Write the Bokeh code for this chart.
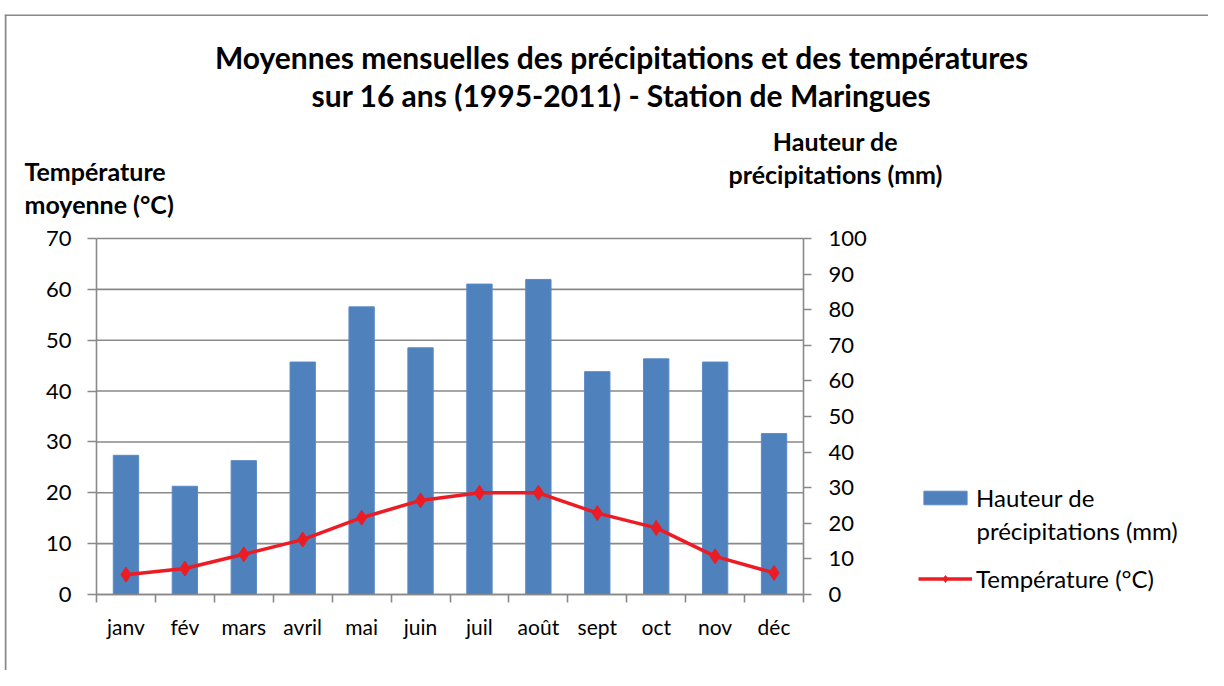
from bokeh.plotting import figure
from bokeh.models import Range1d, LinearAxis, FixedTicker, Legend, LegendItem, Label, Span
from bokeh.embed import file_html
from bokeh.resources import INLINE

# ---- data ----
months = ["janv", "fév", "mars", "avril", "mai", "juin", "juil", "août", "sept", "oct", "nov", "déc"]
precip_mm = [39.1, 30.4, 37.6, 65.3, 80.8, 69.3, 87.2, 88.5, 62.6, 66.2, 65.3, 45.2]
temp_c = [3.9, 5.1, 7.9, 10.8, 15.1, 18.5, 20.0, 20.0, 16.0, 13.1, 7.5, 4.25]
temp_ticks = [0, 10, 20, 30, 40, 50, 60, 70]
precip_ticks = [0, 10, 20, 30, 40, 50, 60, 70, 80, 90, 100]

title_lines = ["Moyennes mensuelles des précipitations et des températures",
               "sur 16 ans (1995-2011) - Station de Maringues"]
left_title = "Température\nmoyenne (°C)"
right_title = "Hauteur de\nprécipitations (mm)"
precip_label = ["Hauteur de", "précipitations (mm)"]
temp_label = "Température (°C)"

FONT = "Lato"
GRAY = "#898989"
BLUE = "#4F81BD"
RED = "#EC1C24"

xs = list(range(1, len(months) + 1))
X_LO, X_HI = xs[0] - 0.5, xs[-1] + 0.5
T_LO, T_HI = temp_ticks[0], temp_ticks[-1]
P_LO, P_HI = precip_ticks[0], precip_ticks[-1]

# ---- layout geometry (page pixels) ----
W, H = 1208, 670
FR_L, FR_T = 4, 14            # outer border origin
AX_L, AX_R, AX_T, AX_B = 96, 803, 238, 594   # chart area

sx = (AX_R - AX_L) / (X_HI - X_LO)
sy = (AX_B - AX_T) / (T_HI - T_LO)
sp = (AX_B - AX_T) / (P_HI - P_LO)

def px(page_x):
    return X_LO + (page_x - AX_L) / sx
def py(page_y):
    return T_LO + (AX_B - page_y) / sy
def pp(page_y):
    return P_LO + (AX_B - page_y) / sp

p = figure(width=W, height=H,
           x_range=Range1d(px(FR_L), px(W)), y_range=Range1d(py(H), py(FR_T)),
           output_backend="svg", toolbar_location=None,
           min_border_left=FR_L, min_border_top=FR_T, min_border_right=0, min_border_bottom=0)
p.extra_y_ranges = {"precip": Range1d(pp(H), pp(FR_T))}
p.outline_line_color = None
p.background_fill_color = "white"
p.border_fill_color = "white"
p.xgrid.visible = False
p.ygrid.visible = False

# outer border (top and left)
p.add_layout(Span(location=py(FR_T + 0.5), dimension="width", line_color=GRAY, line_width=2))
p.add_layout(Span(location=px(FR_L + 1), dimension="height", line_color=GRAY, line_width=2))

# horizontal gridlines
p.segment(x0=[X_LO] * len(temp_ticks), x1=[X_HI] * len(temp_ticks), y0=temp_ticks, y1=temp_ticks,
          line_color=GRAY, line_width=1.6)

bars = p.vbar(x=xs, top=precip_mm, width=0.43, y_range_name="precip",
              fill_color=BLUE, line_color="#5a8ac6", line_width=1)
line = p.line(xs, temp_c, line_color=RED, line_width=3.5)
pts = p.scatter(xs, temp_c, marker="diamond", size=15, fill_color=RED, line_color=RED)

# bottom axis
p.xaxis.visible = False
xa = LinearAxis(fixed_location=T_LO, bounds=(X_LO, X_HI),
                ticker=FixedTicker(ticks=xs, minor_ticks=[x - 0.5 for x in xs] + [X_HI]))
xa.major_label_overrides = {x: m for x, m in zip(xs, months)}
xa.major_tick_line_color = None
xa.minor_tick_out = 8
xa.minor_tick_in = 0
xa.minor_tick_line_color = GRAY
xa.minor_tick_line_width = 1.6
xa.axis_line_color = GRAY
xa.axis_line_width = 1.6
xa.major_label_standoff = 11
xa.major_label_text_font = FONT
xa.major_label_text_font_size = "21px"
xa.major_label_text_color = "black"
p.add_layout(xa, "below")

# left axis
p.yaxis.visible = False
ya = LinearAxis(fixed_location=X_LO, bounds=(T_LO, T_HI), ticker=FixedTicker(ticks=temp_ticks))
ya.axis_line_color = GRAY
ya.axis_line_width = 1.6
ya.major_tick_line_color = GRAY
ya.major_tick_line_width = 1.6
ya.major_tick_out = 9
ya.major_tick_in = 0
ya.minor_tick_line_color = None
ya.major_label_standoff = 16
ya.major_label_text_font = FONT
ya.major_label_text_font_size = "22px"
ya.major_label_text_color = "black"
p.add_layout(ya, "left")

# right axis
ra = LinearAxis(y_range_name="precip", fixed_location=X_HI, bounds=(P_LO, P_HI),
                ticker=FixedTicker(ticks=precip_ticks))
ra.axis_line_color = GRAY
ra.axis_line_width = 1.6
ra.major_tick_line_color = GRAY
ra.major_tick_line_width = 1.6
ra.major_tick_out = 8
ra.major_tick_in = 0
ra.minor_tick_line_color = None
ra.major_label_standoff = 17
ra.major_label_text_font = FONT
ra.major_label_text_font_size = "22px"
ra.major_label_text_color = "black"
p.add_layout(ra, "right")

# titles
for txt, yy in zip(title_lines, [56, 94]):
    p.add_layout(Label(x=px(621), y=py(yy), text=txt, text_align="center", text_baseline="middle",
                       text_font=FONT, text_font_style="bold", text_font_size="30px",
                       text_color="black"))

for txt, yy in zip(left_title.split("\n"), [170, 203]):
    p.add_layout(Label(x=px(24), y=py(yy), text=txt, text_align="left", text_baseline="middle",
                       text_font=FONT, text_font_style="bold", text_font_size="25px",
                       text_color="black"))
for txt, yy in zip(right_title.split("\n"), [140, 173]):
    p.add_layout(Label(x=px(835), y=py(yy), text=txt, text_align="center", text_baseline="middle",
                       text_font=FONT, text_font_style="bold", text_font_size="25px",
                       text_color="black"))

# legend (first label line in the legend, its continuation just below)
legend = Legend(items=[LegendItem(label=precip_label[0], renderers=[bars]),
                       LegendItem(label=temp_label, renderers=[line, pts])],
                location=(918 - FR_L, H - 593))
legend.border_line_color = None
legend.background_fill_alpha = 0
legend.glyph_width = 54
legend.glyph_height = 17
legend.label_standoff = 4
legend.spacing = 52
legend.padding = 0
legend.margin = 0
legend.label_text_font = FONT
legend.label_text_font_size = "24px"
legend.label_text_color = "black"
p.add_layout(legend)
p.add_layout(Label(x=px(976), y=py(530), text=precip_label[1], text_align="left", text_baseline="middle",
                   text_font=FONT, text_font_size="24px", text_color="black"))

open("out.html", "w").write(file_html(p, INLINE))
